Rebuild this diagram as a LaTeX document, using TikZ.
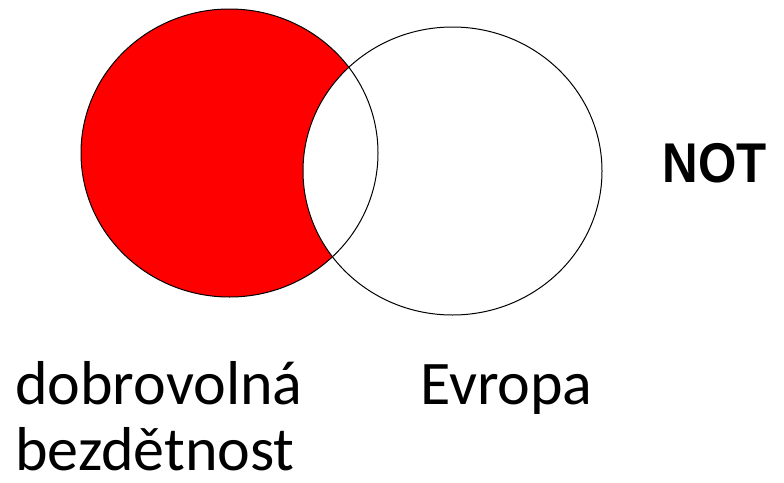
\documentclass[tikz,border=0pt]{standalone}
\usepackage{fontspec}
\usepackage{graphicx}
\setmainfont{Carlito}
\newfontfamily\notfont{Liberation Sans}
\usetikzlibrary{positioning}

\begin{document}
\begin{tikzpicture}[
    x=1pt, y=-1pt,
    set line/.style={black, line width=1pt},
    set label/.style={inner sep=0pt, anchor=base west,
                      font=\fontsize{62}{66}\selectfont},
]
\useasboundingbox (0,0) rectangle (784,482);

% --- set centres ---
\coordinate (ca) at (229.5,153);
\coordinate (cb) at (452.5,171);

% --- shading: A minus B ---
\fill[red] (ca) ellipse [x radius=148.5, y radius=144];
\fill[white] (cb) ellipse [x radius=149.5, y radius=144];

% --- outlines ---
\draw[set line] (ca) ellipse [x radius=148.5, y radius=144];
\draw[set line] (cb) ellipse [x radius=149.5, y radius=144];

% --- operator ---
\node[inner sep=0pt, font=\notfont\bfseries\fontsize{56}{56}\selectfont]
    (op) at (715,163) {\scalebox{0.88}[1]{NOT}};

% --- labels ---
\node[set label] (la1) at (15,404) {dobrovolná};
\node[set label] (la2) at (15,470) {bezdětnost};
\node[set label] (lb) at (420,404) {Evropa};
\end{tikzpicture}
\end{document}
